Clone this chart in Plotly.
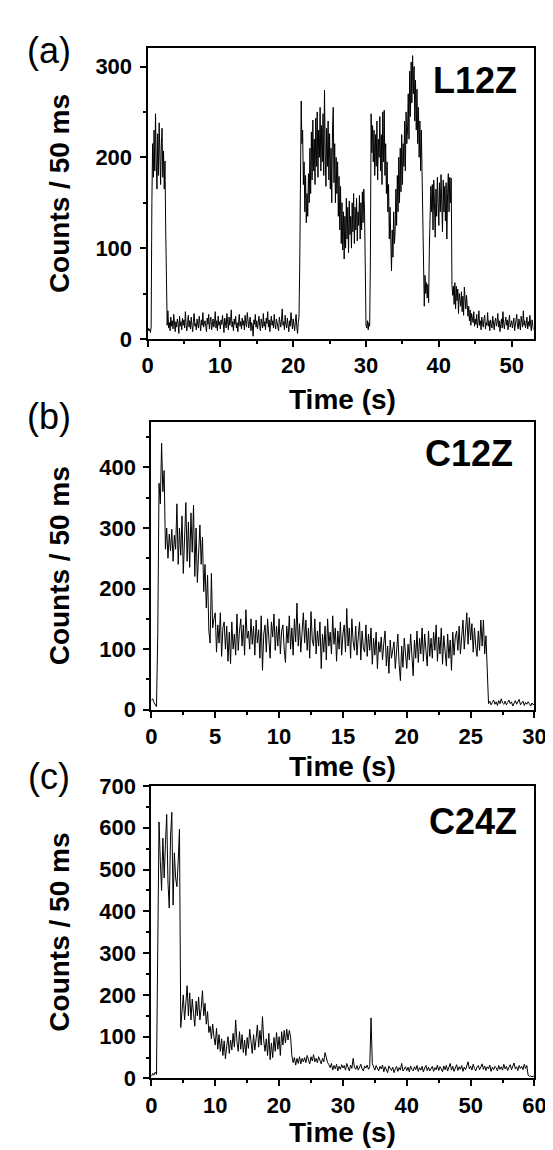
import numpy as np
import plotly.graph_objects as go

W, H = 553, 1150

# (a) L12Z, one value every 0.1 s
dt_a = 0.1
counts_a = [
    8, 12, 9, 11, 7, 13, 150, 215, 178, 230,
    185, 248, 195, 165, 226, 180, 238, 192, 170, 215,
    232, 178, 207, 165, 196, 120, 22, 15, 31, 12,
    18, 9, 24, 14, 20, 11, 27, 16, 8, 19,
    13, 22, 17, 6, 25, 14, 19, 10, 23, 15,
    21, 12, 30, 16, 9, 18, 26, 13, 20, 11,
    24, 15, 8, 19, 28, 14, 17, 10, 22, 16,
    12, 25, 18, 9, 21, 15, 29, 13, 17, 20,
    14, 8, 23, 16, 27, 11, 19, 24, 10, 18,
    22, 13, 17, 30, 12, 20, 9, 25, 15, 19,
    11, 21, 16, 26, 14, 7, 23, 18, 12, 28,
    17, 10, 24, 15, 20, 32, 13, 19, 9, 22,
    16, 25, 12, 18, 8, 21, 27, 14, 19, 11,
    23, 15, 20, 10, 26, 17, 13, 29, 16, 12,
    19, 24, 9, 18, 14, 3, 21, 16, 27, 13,
    20, 11, 17, 25, 15, 9, 22, 18, 12, 28,
    14, 19, 10, 23, 17, 30, 13, 21, 8, 18,
    25, 15, 20, 12, 27, 16, 11, 22, 18, 14,
    9, 24, 17, 13, 21, 33, 15, 19, 10, 26,
    16, 12, 23, 18, 8, 20, 14, 29, 17, 11,
    22, 15, 9, 19, 27, 13, 6, 18, 24, 80,
    245, 262, 215, 230, 170, 195, 140, 180, 128, 160,
    135, 182, 150, 210, 160, 228, 175, 241, 185, 220,
    170, 243, 190, 250, 178, 230, 200, 255, 185, 235,
    195, 248, 180, 274, 205, 168, 232, 190, 240, 175,
    226, 165, 210, 150, 230, 255, 172, 215, 150, 200,
    160, 195, 135, 179, 120, 168, 105, 150, 98, 140,
    88, 135, 100, 155, 110, 145, 95, 152, 115, 135,
    100, 150, 118, 160, 105, 145, 120, 155, 108, 140,
    125, 158, 110, 150, 120, 162, 128, 165, 140, 60,
    15, 12, 20, 10, 18, 14, 85, 248, 205, 235,
    195, 230, 180, 225, 190, 240, 175, 220, 200, 245,
    185, 225, 170, 250, 195, 252, 180, 215, 160, 195,
    140, 170, 110, 145, 85, 75, 120, 90, 140, 105,
    118, 165, 125, 180, 140, 200, 150, 210, 162, 225,
    170, 215, 190, 240, 185, 250, 215, 230, 270, 220,
    295, 245, 305, 260, 312, 270, 300, 240, 285, 230,
    275, 215, 255, 200, 240, 185, 230, 170, 150, 110,
    36, 70, 50, 62, 45, 60, 40, 100, 150, 168,
    140, 170, 120, 175, 150, 112, 165, 135, 178, 150,
    125, 172, 140, 181, 155, 118, 175, 140, 168, 130,
    172, 110, 160, 182, 140, 178, 150, 177, 60, 48,
    58, 38, 62, 33, 58, 42, 55, 28, 50, 40,
    36, 52, 30, 47, 26, 57, 38, 33, 48, 28,
    25, 36, 20, 32, 15, 28, 22, 18, 30, 14,
    22, 16, 27, 12, 19, 31, 15, 20, 10, 24,
    17, 13, 22, 26, 11, 18, 15, 29, 14, 20,
    9, 21, 16, 12, 25, 17, 10, 19, 23, 14,
    18, 28, 13, 20, 8, 16, 22, 12, 30, 17,
    11, 19, 24, 15, 21, 10, 18, 26, 13, 16,
    20, 12, 17, 23, 9, 15, 19, 27, 14, 11,
    22, 16, 10, 25, 18, 13, 31, 15, 20, 12,
    17, 24, 11, 19, 14, 26, 16, 9, 21, 13,
    10,
]

# (b) C12Z, one value every 0.1 s
dt_b = 0.1
counts_b = [
    15, 18, 12, 8, 5, 126, 374, 340, 440, 360,
    395, 265, 300, 250, 290, 262, 298, 245, 288, 265,
    340, 240, 300, 255, 320, 225, 290, 342, 245, 310,
    235, 325, 260, 338, 220, 300, 210, 275, 305, 240,
    285, 195, 240, 168, 222, 130, 110, 225, 135, 150,
    160, 95, 140, 110, 160, 88, 135, 145, 100, 138,
    80, 128, 76, 145, 100, 125, 90, 158, 98, 130,
    150, 105, 140, 90, 165, 118, 130, 100, 150, 108,
    138, 90, 148, 110, 132, 85, 155, 65, 125, 140,
    95, 150, 112, 85, 145, 120, 158, 98, 138, 105,
    150, 92, 130, 140, 100, 78, 138, 110, 155, 100,
    135, 90, 150, 112, 176, 105, 142, 95, 128, 160,
    110, 148, 98, 135, 85, 162, 115, 105, 150, 92,
    130, 105, 145, 68, 125, 95, 138, 82, 150, 105,
    128, 92, 155, 108, 135, 80, 130, 100, 145, 90,
    125, 140, 95, 167, 105, 135, 85, 150, 112, 98,
    138, 90, 120, 145, 82, 130, 102, 95, 140, 88,
    125, 98, 135, 75, 118, 90, 128, 68, 112, 95,
    120, 82, 110, 130, 72, 105, 60, 115, 85, 100,
    112, 68, 100, 125, 75, 48, 105, 70, 118, 85,
    68, 108, 82, 125, 90, 56, 115, 85, 130, 78,
    118, 92, 135, 80, 125, 95, 72, 130, 88, 118,
    85, 128, 98, 140, 80, 120, 92, 135, 75, 122,
    95, 72, 125, 85, 115, 65, 128, 90, 120, 130,
    98, 138, 92, 125, 148, 100, 132, 160, 108, 152,
    115, 142, 95, 135, 105, 88, 130, 98, 148, 105,
    148, 92, 122, 60, 10, 14, 8, 12, 16, 9,
    13, 7, 15, 10, 18, 11, 9, 14, 8, 12,
    16, 10, 13, 6, 11, 15, 9, 12, 17, 8,
    11, 14, 7, 12, 9, 13, 10, 6, 11, 8,
    10,
]

# (c) C24Z, one value every 0.2 s
dt_c = 0.2
counts_c = [
    5, 12, 8, 15, 10, 300, 614, 520, 450, 575,
    480, 560, 632, 470, 408, 580, 637, 415, 540, 480,
    459, 520, 597, 122, 175, 200, 140, 180, 222, 150,
    205, 140, 190, 155, 125, 185, 150, 195, 140, 168,
    210, 150, 180, 130, 160, 110, 125, 95, 130, 100,
    80, 120, 70, 105, 65, 95, 55, 90, 47, 78,
    100, 60, 92, 68, 108, 75, 140, 88, 65, 112,
    70, 105, 62, 92, 55, 98, 72, 118, 78, 60,
    105, 68, 95, 128, 75, 115, 80, 148, 90, 65,
    95, 55, 108, 45, 85, 50, 98, 65, 110, 70,
    100, 55, 112, 80, 115, 85, 118, 92, 115, 100,
    55, 38, 50, 32, 48, 36, 52, 35, 48, 40,
    50, 38, 55, 42, 35, 52, 42, 57, 40, 48,
    38, 52, 42, 35, 48, 40, 62, 46, 38, 33,
    26, 36, 20, 31, 23, 34, 18, 29, 22, 33,
    25, 31, 20, 36, 26, 18, 32, 24, 48, 27,
    22, 31, 20, 29, 34, 23, 18, 30, 25, 32,
    22, 28, 145, 36, 27, 20, 31, 24, 18, 29,
    23, 32, 16, 28, 21, 14, 30, 23, 19, 27,
    14, 23, 29, 17, 26, 20, 36, 18, 25, 28,
    19, 27, 16, 30, 22, 18, 28, 21, 31, 17,
    26, 20, 29, 16, 25, 31, 19, 27, 18, 24,
    29, 17, 26, 21, 32, 19, 28, 23, 16, 30,
    21, 31, 18, 27, 36, 20, 29, 17, 26, 33,
    19, 28, 22, 31, 17, 27, 21, 30, 40, 23,
    29, 20, 34, 24, 18, 28, 31, 21, 27, 35,
    22, 30, 19, 28, 23, 32, 17, 27, 21, 29,
    26, 18, 31, 22, 28, 20, 34, 23, 29, 19,
    27, 33, 21, 30, 37, 23, 28, 19, 31, 24,
    29, 21, 34, 24, 31, 8, 5, 6, 4, 5,
    6,
]

panel_tags = ["(a)", "(b)", "(c)"]
sample_names = ["L12Z", "C12Z", "C24Z"]
x_ranges = [[0, 53], [0, 30], [0, 60]]
y_ranges = [[0, 320], [0, 475], [0, 700]]
x_dticks = [10, 5, 10]
y_dtick = 100

# plot boxes in pixels: left, right, top, bottom
boxes = [(138, 537, 29, 326), (142, 538, 411, 705), (142, 538, 783, 1082)]


def px(x):
    return x / W


def py(y):
    return 1 - y / H


def axis_style(rng, dtick, standoff):
    return dict(
        range=rng, dtick=dtick, tick0=0,
        showline=True, linecolor="black", linewidth=2, mirror=True,
        ticks="outside", ticklen=6, tickwidth=2, tickcolor="black",
        ticklabelstandoff=standoff,
        showgrid=False, zeroline=False,
        tickfont=dict(family="Liberation Sans", size=22, color="black", weight="bold"),
        minor=dict(dtick=dtick / 2, ticks="outside", ticklen=3, tickwidth=1.5,
                   tickcolor="black", showgrid=False),
    )


fig = go.Figure()
series = [(dt_a, counts_a), (dt_b, counts_b), (dt_c, counts_c)]
for i, (dt, counts) in enumerate(series):
    t = np.round(np.arange(len(counts)) * dt, 2)
    sfx = "" if i == 0 else str(i + 1)
    fig.add_trace(go.Scatter(
        x=t, y=counts, mode="lines",
        line=dict(color="black", width=1),
        xaxis="x" + sfx, yaxis="y" + sfx, showlegend=False,
    ))

layout = dict(
    width=W, height=H, margin=dict(l=0, r=0, t=0, b=0),
    paper_bgcolor="white", plot_bgcolor="white",
)
annotations = []
title_font = dict(family="Liberation Sans", size=28, color="black", weight="bold")
label_right = [522, 518, 522]
label_y = [62, 443, 819]
tag_y = [31, 405, 773]
time_y = [388, 763, 1137]
for i in range(3):
    l, r, t, b = boxes[i]
    sfx = "" if i == 0 else str(i + 1)
    xa = axis_style(x_ranges[i], x_dticks[i], 0)
    xa.update(domain=[px(l), px(r)], anchor="y" + sfx)
    ya = axis_style(y_ranges[i], y_dtick, 3)
    ya.update(domain=[py(b), py(t)], anchor="x" + sfx)
    layout["xaxis" + sfx] = xa
    layout["yaxis" + sfx] = ya

    annotations.append(dict(
        text="Counts / 50 ms", textangle=-90, font=title_font,
        x=px(47), y=py((t + b) / 2), xref="paper", yref="paper",
        xanchor="center", yanchor="middle", showarrow=False))
    annotations.append(dict(
        text="Time (s)", font=title_font,
        x=px(340), y=py(time_y[i]), xref="paper", yref="paper",
        xanchor="center", yanchor="middle", showarrow=False))
    annotations.append(dict(
        text=panel_tags[i], font=dict(family="Liberation Sans", size=36, color="black"),
        x=px(36), y=py(tag_y[i]), xref="paper", yref="paper",
        xanchor="center", yanchor="middle", showarrow=False))
    annotations.append(dict(
        text=sample_names[i],
        font=dict(family="Liberation Sans", size=36, color="black", weight="bold"),
        x=px(label_right[i]), y=py(label_y[i]), xref="paper", yref="paper",
        xanchor="right", yanchor="middle", showarrow=False))

layout["annotations"] = annotations
fig.update_layout(**layout)

fig.write_html("out.html")
